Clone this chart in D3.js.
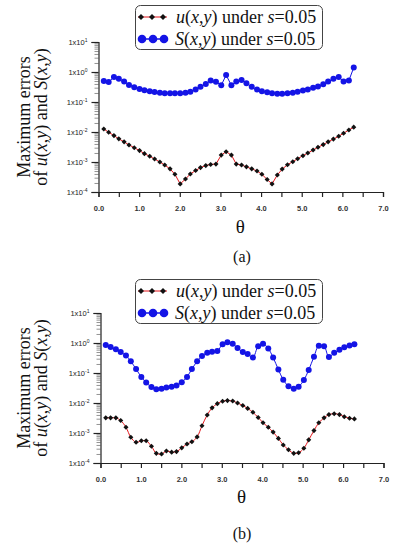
<!DOCTYPE html>
<html>
<head>
<meta charset="utf-8">
<script src="https://cdn.jsdelivr.net/npm/d3@7"></script>
<style>
  body { margin: 0; background: #fff; }
  svg { display: block; }
</style>
</head>
<body>
<div id="chart"></div>
<script>
// theta sample points (x axis)
var theta = [0.13, 0.25, 0.38, 0.50, 0.63, 0.75, 0.88, 1.01, 1.13, 1.26,
             1.38, 1.51, 1.63, 1.76, 1.88, 2.01, 2.14, 2.26, 2.39, 2.51,
             2.64, 2.76, 2.89, 3.02, 3.14, 3.27, 3.39, 3.52, 3.64, 3.77,
             3.90, 4.02, 4.15, 4.27, 4.40, 4.52, 4.65, 4.78, 4.90, 5.03,
             5.15, 5.28, 5.40, 5.53, 5.65, 5.78, 5.91, 6.03, 6.16, 6.28];

// panel (a)
var uErrA = [1.26e-2, 9.8e-3, 7.6e-3, 5.9e-3, 4.7e-3, 3.7e-3, 3.0e-3, 2.4e-3, 1.9e-3, 1.55e-3,
             1.26e-3, 1.0e-3, 7.9e-4, 5.9e-4, 3.9e-4, 1.86e-4, 2.7e-4, 4.0e-4, 5.2e-4, 6.5e-4,
             7.6e-4, 8.3e-4, 8.5e-4, 1.7e-3, 2.2e-3, 1.7e-3, 8.5e-4, 7.9e-4, 6.9e-4, 5.9e-4,
             5.0e-4, 3.9e-4, 2.6e-4, 1.86e-4, 3.7e-4, 5.8e-4, 8.1e-4, 1.02e-3, 1.29e-3, 1.62e-3,
             2.0e-3, 2.5e-3, 3.1e-3, 3.8e-3, 4.7e-3, 5.8e-3, 7.2e-3, 9.1e-3, 1.17e-2, 1.45e-2];
var sErrA = [0.50, 0.46, 0.68, 0.60, 0.48, 0.37, 0.31, 0.27, 0.245, 0.23,
             0.214, 0.204, 0.195, 0.195, 0.195, 0.195, 0.204, 0.22, 0.26, 0.32,
             0.40, 0.52, 0.47, 0.36, 0.79, 0.36, 0.48, 0.54, 0.42, 0.32,
             0.26, 0.23, 0.21, 0.195, 0.19, 0.19, 0.195, 0.204, 0.22, 0.24,
             0.26, 0.30, 0.33, 0.39, 0.48, 0.59, 0.68, 0.48, 0.52, 1.40];

// panel (b)
var uErrB = [3.2e-3, 3.2e-3, 3.2e-3, 2.6e-3, 1.55e-3, 7.2e-4, 4.9e-4, 5.5e-4, 5.5e-4, 3.6e-4,
             2.1e-4, 2.0e-4, 2.5e-4, 2.3e-4, 2.4e-4, 3.2e-4, 4.3e-4, 5.1e-4, 7.4e-4, 1.74e-3,
             4.0e-3, 6.9e-3, 9.5e-3, 1.15e-2, 1.2e-2, 1.16e-2, 1.0e-2, 8.3e-3, 6.6e-3, 4.9e-3,
             3.3e-3, 2.2e-3, 1.55e-3, 1.07e-3, 6.6e-4, 4.0e-4, 2.75e-4, 2.1e-4, 2.2e-4, 3.1e-4,
             5.9e-4, 1.2e-3, 2.2e-3, 3.2e-3, 4.1e-3, 4.4e-3, 4.1e-3, 3.5e-3, 3.1e-3, 2.95e-3];
var sErrB = [0.86, 0.74, 0.62, 0.50, 0.38, 0.245, 0.135, 0.074, 0.048, 0.034,
             0.029, 0.030, 0.033, 0.035, 0.038, 0.049, 0.074, 0.135, 0.245, 0.37,
             0.47, 0.51, 0.54, 0.91, 1.05, 0.94, 0.68, 0.50, 0.43, 0.33,
             0.78, 0.95, 0.65, 0.33, 0.13, 0.060, 0.036, 0.030, 0.035, 0.058,
             0.126, 0.35, 0.81, 0.78, 0.34, 0.47, 0.59, 0.72, 0.83, 0.91];

var xTicks = [0, 0.5, 1, 1.5, 2, 2.5, 3, 3.5, 4, 4.5, 5, 5.5, 6, 6.5, 7];
var yMajorExps = [1, 0, -1, -2, -3, -4];

var W = 396, H = 550;
var serif = "'Liberation Serif', 'Times New Roman', serif";
var sans = "'Liberation Sans', Arial, sans-serif";
var red = "#e3151b", blue = "#1414e6";

var svg = d3.select("#chart").append("svg")
    .attr("width", W)
    .attr("height", H);

var panels = [
  {u: uErrA, s: sErrA, left: 98.5, right: 383, top: 42, bottom: 192,
   legY: 5, titleY: 117, thetaY: 233, capY: 262, cap: "(a)", curve: d3.curveLinear},
  {u: uErrB, s: sErrB, left: 100.5, right: 383.5, top: 313, bottom: 463,
   legY: 279, titleY: 388, thetaY: 503, capY: 539, cap: "(b)", curve: d3.curveCatmullRom}
];

// italic variable text like u(x,y) under s=0.05
var richText = (sel, parts) => {
  parts.forEach((p) => {
    sel.append("tspan")
       .attr("font-style", p[1] ? "italic" : "normal")
       .text(p[0]);
  });
};

// small black diamond marker (square turned 45deg)
var diamondAt = (sel, cx, cy, size) => {
  sel.append("path")
     .attr("d", d3.symbol().type(d3.symbolSquare).size(size))
     .attr("transform", "translate(" + cx + "," + cy + ") rotate(45)")
     .attr("fill", "#111");
};

var drawPanel = (p) => {
  var x = d3.scaleLinear().domain([0, 7]).range([p.left, p.right]);
  var y = d3.scaleLog().domain([1e-4, 10]).range([p.bottom, p.top]);
  var g = svg.append("g");

  // minor y ticks
  g.append("g")
   .attr("transform", "translate(" + p.left + ",0)")
   .call(d3.axisLeft(y).ticks(10).tickSize(4).tickFormat(""))
   .call((a) => a.select(".domain").remove())
   .selectAll("line").attr("stroke", "#777").attr("stroke-width", 0.8);

  // major y ticks
  var ya = g.append("g")
   .attr("transform", "translate(" + p.left + ",0)")
   .call(d3.axisLeft(y).tickValues(yMajorExps.map((e) => Math.pow(10, e))).tickSize(7).tickPadding(4));
  ya.select(".domain").attr("stroke", "#222").attr("stroke-width", 1.2);
  ya.selectAll("line").attr("stroke", "#222").attr("stroke-width", 1.2);
  ya.selectAll("text")
    .attr("font-family", sans)
    .attr("font-size", 7.5)
    .attr("fill", "#222")
    .each(function(d) {
      var t = d3.select(this).text("");
      t.append("tspan").text("1x10");
      t.append("tspan").attr("dy", -3).attr("font-size", 5).text(Math.round(Math.log10(d)));
    });

  // x axis
  var xa = g.append("g")
   .attr("transform", "translate(0," + p.bottom + ")")
   .call(d3.axisBottom(x).tickValues(xTicks).tickSize(5).tickPadding(9)
         .tickFormat((d) => d % 1 === 0 ? d3.format(".1f")(d) : ""));
  xa.select(".domain").attr("stroke", "#222").attr("stroke-width", 1.2);
  xa.selectAll("line").attr("stroke", "#222").attr("stroke-width", 1.2);
  xa.selectAll("text")
    .attr("font-family", sans)
    .attr("font-size", 7.5)
    .attr("font-weight", "bold")
    .attr("fill", "#333");

  // S(x,y) series
  var sLine = d3.line().x((d, i) => x(theta[i])).y((d) => y(d)).curve(p.curve);
  g.append("path")
   .datum(p.s)
   .attr("d", sLine)
   .attr("fill", "none")
   .attr("stroke", blue)
   .attr("stroke-width", 1);
  g.selectAll(".sdot")
   .data(p.s)
   .enter()
   .append("circle")
   .attr("cx", (d, i) => x(theta[i]))
   .attr("cy", (d) => y(d))
   .attr("r", 3)
   .attr("fill", blue);

  // u(x,y) series
  var uLine = d3.line().x((d, i) => x(theta[i])).y((d) => y(d)).curve(p.curve);
  g.append("path")
   .datum(p.u)
   .attr("d", uLine)
   .attr("fill", "none")
   .attr("stroke", red)
   .attr("stroke-width", 1);
  g.selectAll(".udot")
   .data(p.u)
   .enter()
   .append("path")
   .attr("d", d3.symbol().type(d3.symbolSquare).size(13))
   .attr("transform", (d, i) => "translate(" + x(theta[i]) + "," + y(d) + ") rotate(45)")
   .attr("fill", "#111");

  // legend
  var lg = g.append("g").attr("transform", "translate(0," + p.legY + ")");
  lg.append("rect")
    .attr("x", 135.5).attr("y", 0.5)
    .attr("width", 187).attr("height", 44)
    .attr("rx", 5)
    .attr("fill", "#fff")
    .attr("stroke", "#444")
    .attr("stroke-width", 1);
  lg.append("line")
    .attr("x1", 138).attr("x2", 167).attr("y1", 12).attr("y2", 12)
    .attr("stroke", red).attr("stroke-width", 1);
  [141, 152, 163].forEach((cx) => diamondAt(lg, cx, 12, 18));
  lg.append("line")
    .attr("x1", 140).attr("x2", 167).attr("y1", 34).attr("y2", 34)
    .attr("stroke", blue).attr("stroke-width", 1.5);
  [142, 153, 164].forEach((cx) => {
    lg.append("circle").attr("cx", cx).attr("cy", 34).attr("r", 4.3).attr("fill", blue);
  });
  var t1 = lg.append("text").attr("x", 176).attr("y", 18)
    .attr("font-family", serif).attr("font-size", 18).attr("fill", "#111");
  richText(t1, [["u", 1], ["(", 0], ["x", 1], [",", 0], ["y", 1], [") under ", 0], ["s", 1], ["=0.05", 0]]);
  var t2 = lg.append("text").attr("x", 175).attr("y", 40)
    .attr("font-family", serif).attr("font-size", 18).attr("fill", "#111");
  richText(t2, [["S", 1], ["(", 0], ["x", 1], [",", 0], ["y", 1], [") under ", 0], ["s", 1], ["=0.05", 0]]);

  // y title
  var yt = g.append("g").attr("transform", "translate(0," + p.titleY + ") rotate(-90)");
  yt.append("text").attr("x", 0).attr("y", 30)
    .attr("text-anchor", "middle")
    .attr("font-family", serif).attr("font-size", 18).attr("fill", "#111")
    .text("Maximum errors");
  var yt2 = yt.append("text").attr("x", 0).attr("y", 47)
    .attr("text-anchor", "middle")
    .attr("font-family", serif).attr("font-size", 18).attr("fill", "#111");
  richText(yt2, [["of ", 0], ["u", 1], ["(", 0], ["x", 1], [",", 0], ["y", 1], [") and ", 0], ["S", 1], ["(", 0], ["x", 1], [",", 0], ["y", 1], [")", 0]]);

  // x title and caption
  g.append("text")
   .attr("x", (p.left + p.right) / 2 - 0.5).attr("y", p.thetaY)
   .attr("text-anchor", "middle")
   .attr("font-family", serif).attr("font-size", 19).attr("fill", "#111")
   .text("θ");
  g.append("text")
   .attr("x", 242).attr("y", p.capY)
   .attr("text-anchor", "middle")
   .attr("font-family", serif).attr("font-size", 16).attr("fill", "#111")
   .text(p.cap);
};

panels.forEach(drawPanel);
</script>
</body>
</html>
